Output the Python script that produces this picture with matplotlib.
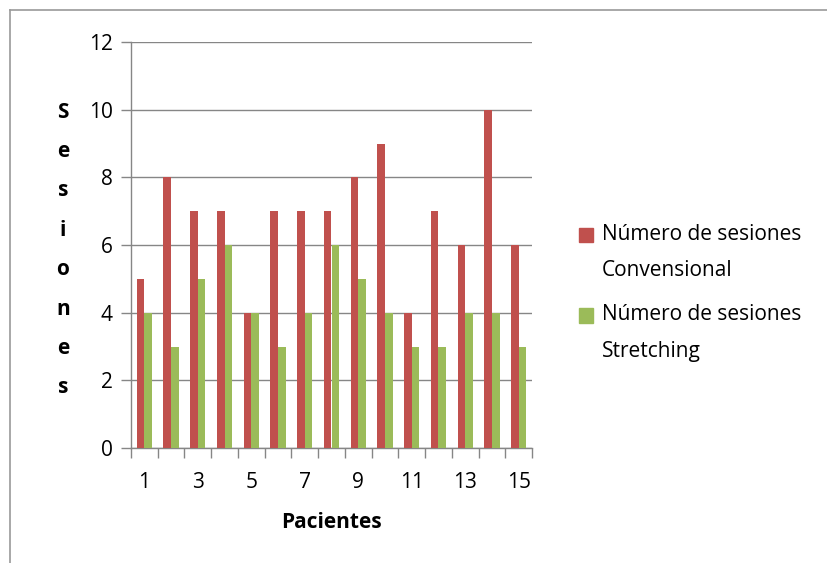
"""Sesiones por paciente: tratamiento convencional frente a stretching."""

import matplotlib

matplotlib.use("Agg")
import matplotlib.pyplot as plt
import numpy as np
from matplotlib.lines import Line2D
from matplotlib.patches import Patch

pacientes = list(range(1, 16))
convencional = [5, 8, 7, 7, 4, 7, 7, 7, 8, 9, 4, 7, 6, 10, 6]
stretching = [4, 3, 5, 6, 4, 3, 4, 6, 5, 4, 3, 3, 4, 4, 3]
series_labels = ["Número de sesiones\nConvensional", "Número de sesiones\nStretching"]
y_ticks = [0, 2, 4, 6, 8, 10, 12]

RED = "#C0504D"
GREEN = "#9BBB59"
GRID = "#868686"
FS = 15

plt.rcParams["font.family"] = ["Open Sans", "DejaVu Sans"]

fig = plt.figure(figsize=(8.27, 5.63), dpi=100)
ax = fig.add_axes([131 / 827, 115 / 563, 401 / 827, 406 / 563])

# marco exterior (solo se ven los bordes superior e izquierdo)
fig.add_artist(Line2D([10 / 827, 10 / 827], [0, 1 - 10 / 563], color="#9a9a9a", lw=1.2))
fig.add_artist(Line2D([10 / 827, 1], [1 - 10 / 563, 1 - 10 / 563], color="#9a9a9a", lw=1.2))

x = np.arange(len(pacientes))
width = 1 / 3.5
ax.bar(x - width / 2, convencional, width, color=RED, zorder=3)
ax.bar(x + width / 2, stretching, width, color=GREEN, zorder=3)

ax.set_xlim(-0.5, len(pacientes) - 0.5)
ax.set_ylim(0, 12)
ax.set_yticks(y_ticks)
ax.yaxis.grid(True, color=GRID, lw=1.0, zorder=0)

# etiquetas de pacientes impares, marcas entre categorías
ax.set_xticks(x[::2])
ax.set_xticklabels([str(p) for p in pacientes[::2]])
ax.set_xticks(np.arange(-0.5, len(pacientes)), minor=True)
ax.tick_params(axis="x", which="major", length=0, pad=17, labelsize=FS)
ax.tick_params(axis="x", which="minor", length=7, color=GRID, width=1.0)
ax.tick_params(axis="y", length=7, color=GRID, width=1.0, pad=6, labelsize=FS)

for side in ("top", "right"):
    ax.spines[side].set_visible(False)
for side in ("left", "bottom"):
    ax.spines[side].set_color(GRID)
    ax.spines[side].set_linewidth(1.0)

ax.set_xlabel("Pacientes", fontsize=FS, fontweight="bold", labelpad=14)
fig.text(63 / 827, 1 - 250 / 563, "S\ne\ns\ni\no\nn\ne\ns", ha="center", va="center",
         fontsize=FS, fontweight="bold", linespacing=2.15)

handles = [Patch(color=RED), Patch(color=GREEN)]
leg = fig.legend(handles, series_labels, loc="upper left", bbox_to_anchor=(560 / 827, 1 - 205 / 563),
                 frameon=False, fontsize=FS, handlelength=0.7, handleheight=0.7,
                 handletextpad=0.4, labelspacing=1.13)
for txt in leg.get_texts():
    txt.set_linespacing(1.95)
# el cuadro de color va alineado con la primera línea de cada entrada
for h in leg.legend_handles:
    h.set_y(h.get_y() + 13)

fig.savefig("out.png", dpi=100)
